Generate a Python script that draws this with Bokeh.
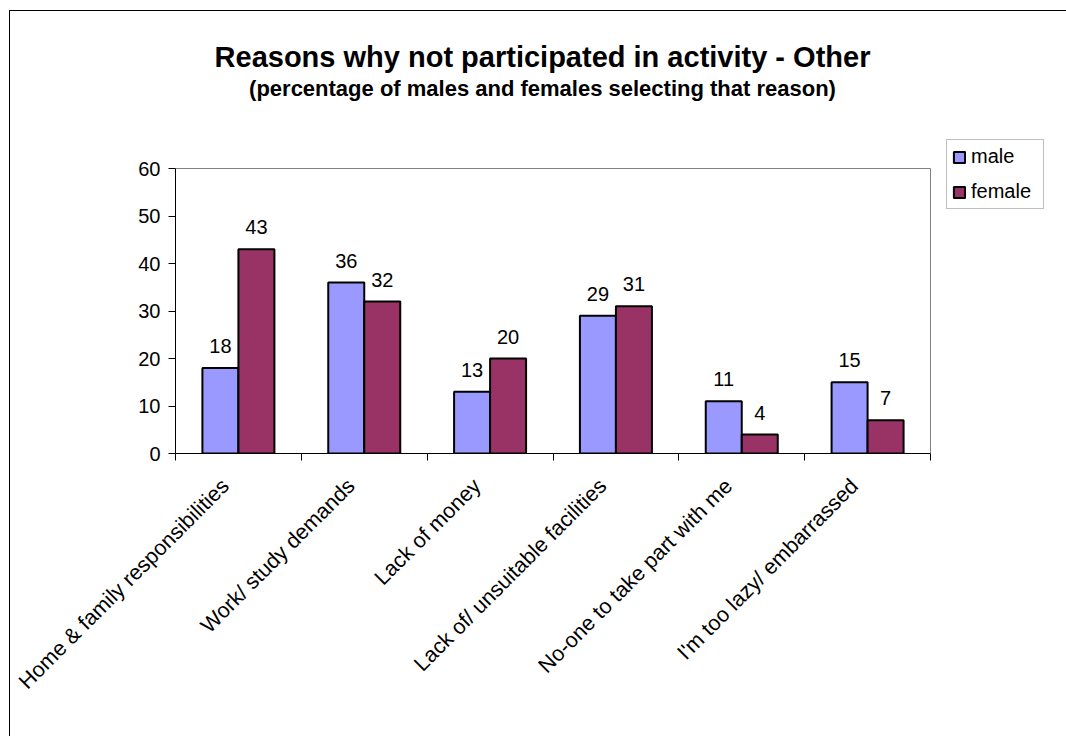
from math import pi

from bokeh.core.properties import value
from bokeh.embed import file_html
from bokeh.models import (ColumnDataSource, FixedTicker, Label, LabelSet,
                          Legend, LegendItem, Range1d)
from bokeh.plotting import figure
from bokeh.resources import INLINE

# Survey results: share of respondents selecting each reason (%)
categories = [
    "Home & family responsibilities",
    "Work/ study demands",
    "Lack of money",
    "Lack of/ unsuitable facilities",
    "No-one to take part with me",
    "I'm too lazy/ embarrassed",
]
male = [18, 36, 13, 29, 11, 15]
female = [43, 32, 20, 31, 4, 7]
y_ticks = [0, 10, 20, 30, 40, 50, 60]

title_text = "Reasons why not participated in activity - Other"
subtitle_text = "(percentage of males and females selecting that reason)"

FONT = "Liberation Sans"
MALE_COLOR = "#9999FF"
FEMALE_COLOR = "#993366"
AREA_LINE = "#808080"

# page geometry (pixels)
FIG_W, FIG_H = 1066, 736
AREA_L, AREA_R, AREA_T, AREA_B = 175, 930, 168, 453   # bar area
TITLE_CX, TITLE_BASE, SUB_BASE = 542, 56, 88
KEY_L, KEY_B = 946, 209
BAR_PX = 36
NAME_SHIFT_PX = 13

n = len(categories)
y_max = y_ticks[-1]
px_x = (AREA_R - AREA_L) / n          # pixels per category
px_y = (AREA_B - AREA_T) / y_max      # pixels per percentage point
bar_w = BAR_PX / px_x

centers = [i + 0.5 for i in range(n)]
bounds = list(range(n + 1))

# the frame runs to the top and right edges of the page so that the heading
# and the key can be drawn inside it; the bar area is the lower-left part
p = figure(
    width=FIG_W, height=FIG_H, title=None,
    x_range=Range1d(0, (FIG_W - AREA_L) / px_x),
    y_range=Range1d(0, AREA_B / px_y),
    output_backend="svg", toolbar_location=None,
    min_border_left=AREA_L, min_border_right=0,
    min_border_top=0, min_border_bottom=FIG_H - AREA_B,
)
p.background_fill_color = None
p.border_fill_color = None
p.outline_line_color = None
p.xgrid.visible = False
p.ygrid.visible = False
# thin black frame round the whole chart
p.styles = {
    "background": "linear-gradient(#000, #000) 9px 10px / 1px 100% no-repeat, "
                  "linear-gradient(#000, #000) 9px 10px / 100% 1px no-repeat, #fff",
}

# y axis
yax = p.left[0]
yax.ticker = FixedTicker(ticks=y_ticks)
yax.bounds = (y_ticks[0], y_max)
yax.axis_line_color = "black"
yax.major_tick_line_color = "black"
yax.major_tick_out = 7
yax.major_tick_in = 0
yax.minor_tick_line_color = None
yax.major_label_standoff = 8
yax.major_label_text_font = FONT
yax.major_label_text_font_size = "20px"
yax.major_label_text_color = "black"

# x axis: names under the groups, short ticks on the group boundaries
xax = p.below[0]
name_ticks = [c - NAME_SHIFT_PX / px_x for c in centers]
xax.ticker = FixedTicker(ticks=name_ticks, minor_ticks=bounds)
xax.bounds = (0, n)
xax.major_label_overrides = {t: name for t, name in zip(name_ticks, categories)}
xax.major_label_orientation = pi / 4
xax.major_label_standoff = 22
xax.major_label_text_font = FONT
xax.major_label_text_font_size = "21.5px"
xax.major_label_text_color = "black"
xax.axis_line_color = "black"
xax.major_tick_line_color = None
xax.major_tick_out = 0
xax.major_tick_in = 0
xax.minor_tick_line_color = "black"
xax.minor_tick_out = 7
xax.minor_tick_in = 0

# grey top and right edges of the bar area
p.segment(x0=[0, n], y0=[y_max, 0], x1=[n, n], y1=[y_max, y_max],
          line_color=AREA_LINE, line_width=1)

src = ColumnDataSource(dict(
    xm=[c - bar_w / 2 for c in centers],
    xf=[c + bar_w / 2 for c in centers],
    male=male, female=female,
    male_txt=[str(v) for v in male],
    female_txt=[str(v) for v in female],
))

r_m = p.vbar(x="xm", top="male", bottom=0, width=bar_w, source=src,
             fill_color=MALE_COLOR, line_color="black", line_width=2)
r_f = p.vbar(x="xf", top="female", bottom=0, width=bar_w, source=src,
             fill_color=FEMALE_COLOR, line_color="black", line_width=2)

# value labels over each bar
for xcol, ycol, tcol in (("xm", "male", "male_txt"), ("xf", "female", "female_txt")):
    p.add_layout(LabelSet(
        x=xcol, y=ycol, text=tcol, source=src, y_offset=15,
        text_align="center", text_baseline="alphabetic",
        text_font=value(FONT), text_font_size=value("20px"),
        text_color="black",
    ))

# heading
title_x = (TITLE_CX - AREA_L) / px_x
p.add_layout(Label(
    x=title_x, y=(AREA_B - TITLE_BASE) / px_y, text=title_text,
    text_align="center", text_baseline="alphabetic",
    text_font=FONT, text_font_size="29px", text_font_style="bold",
    text_color="black",
))
p.add_layout(Label(
    x=title_x, y=(AREA_B - SUB_BASE) / px_y, text=subtitle_text,
    text_align="center", text_baseline="alphabetic",
    text_font=FONT, text_font_size="22px", text_font_style="bold",
    text_color="black",
))

legend = Legend(
    items=[LegendItem(label="male", renderers=[r_m]),
           LegendItem(label="female", renderers=[r_f])],
    location=(KEY_L - AREA_L, AREA_B - KEY_B),
    orientation="vertical",
    glyph_width=14, glyph_height=14,
    label_standoff=5, label_height=20, label_width=67,
    spacing=12, padding=5, margin=0,
    label_text_font=FONT, label_text_font_size="20px",
    label_text_color="black",
    border_line_color=AREA_LINE, border_line_width=1,
    background_fill_color="white", background_fill_alpha=1,
)
p.add_layout(legend, "center")

open("out.html", "w").write(file_html(p, INLINE))
